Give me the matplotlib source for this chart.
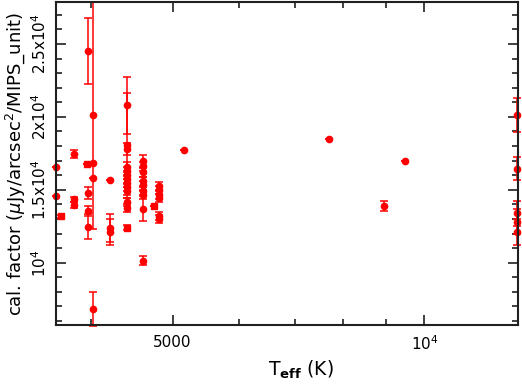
import matplotlib
matplotlib.use("Agg")
import matplotlib.pyplot as plt
from matplotlib.ticker import FixedLocator, NullFormatter

# circles: Teff (K), calibration factor, error
teff = [3630, 3630,
        3810, 3810, 3810,
        3960, 3960, 3960, 3960,
        4017, 4017, 4017, 4017,
        4205, 4210, 4210,
        4417, 4417, 4417, 4417, 4417, 4417, 4417, 4417, 4417, 4417, 4417, 4417,
        4611, 4611, 4611, 4611, 4611, 4611, 4611, 4611, 4611,
        4822, 4822, 4822, 4822, 4822, 4822,
        5155, 7690, 8960, 9494,
        12920, 12920, 12920, 12920, 12920]
cal = [16560, 14590,
       17470, 14340, 13970,
       24500, 14800, 13560, 12470,
       20100, 16830, 15800, 6850,
       15670, 12400, 12130,
       20800, 18060, 17790, 16560, 16280, 16010, 15730, 15460, 15190, 14910, 14160, 13750,
       16970, 16620, 16210, 15590, 15320, 14910, 14640, 13710, 10150,
       15250, 14980, 14640, 14430, 13230, 12990,
       17700, 18490, 13900, 16990,
       20120, 16440, 13380, 12810, 12120]
cal_err = [0, 0,
           280, 200, 200,
           2260, 410, 340, 860,
           7800, 0, 0, 1160,
           0, 960, 890,
           1960, 3600, 400, 350, 300, 300, 300, 300, 300, 300, 300, 300,
           410, 300, 300, 300, 300, 300, 300, 860, 340,
           270, 270, 270, 270, 270, 270,
           0, 0, 340, 0,
           1140, 790, 850, 850, 900]

# squares
teff_sq = [3680, 3950, 4417, 4755]
cal_sq = [13200, 16760, 12410, 13900]
cal_sq_err = [100, 0, 150, 0]

xticks = [5000, 10000]
xticklabels = ['5000', '$10^4$']
yticks = [10000, 15000, 20000, 25000]
yticklabels = ['$10^4$', '1.5x$10^4$', '2x$10^4$', '2.5x$10^4$']

plt.rcParams['font.family'] = 'DejaVu Sans'
plt.rcParams['font.size'] = 11

fig = plt.figure(figsize=(5.22, 3.9), dpi=100)
ax = fig.add_axes([0.1073, 0.1667, 0.8850, 0.8283])

red = '#ff0000'
ax.errorbar(teff, cal, yerr=cal_err, fmt='o', color=red, ms=4.5,
            elinewidth=1.1, capsize=2.6, capthick=1.1, clip_on=False)
ax.errorbar(teff_sq, cal_sq, yerr=cal_sq_err, fmt='s', color=red, ms=4.3,
            elinewidth=1.1, capsize=2.6, capthick=1.1, clip_on=False)

ax.set_xscale('log')
ax.set_xlim(3628, 12940)
ax.set_ylim(5730, 27880)

ax.xaxis.set_major_locator(FixedLocator(xticks))
ax.set_xticklabels(xticklabels)
ax.xaxis.set_minor_locator(FixedLocator([4000, 6000, 7000, 8000, 9000]))
ax.xaxis.set_minor_formatter(NullFormatter())

ax.set_yticks(yticks)
ax.set_yticklabels(yticklabels, rotation=90, va='center')
ax.yaxis.set_minor_locator(FixedLocator(range(6000, 28000, 1000)))

ax.tick_params(which='both', direction='in', top=True, right=True, width=1.2, color='#202020')
ax.tick_params(which='major', length=7)
ax.tick_params(which='minor', length=4.5)
ax.tick_params(axis='x', pad=7)
ax.tick_params(axis='y', pad=5)
for s in ax.spines.values():
    s.set_linewidth(1.5)
    s.set_color('#202020')

ax.set_xlabel(r'T$_{\mathbf{eff}}$ (K)', fontsize=13.5)
ax.xaxis.set_label_coords(0.53, -0.105)
ax.set_ylabel(r'cal. factor ($\mu$Jy/arcsec$^2$/MIPS_unit)', fontsize=13)
ax.yaxis.set_label_coords(-0.062, 0.5)

fig.savefig('out.png', dpi=100)
